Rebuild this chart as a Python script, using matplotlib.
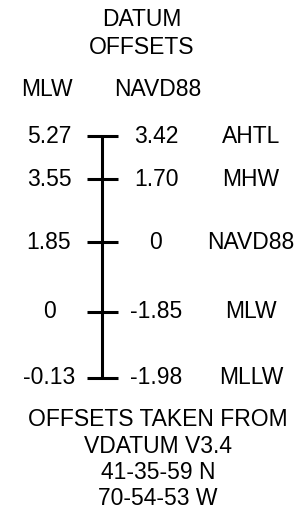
#Purpose: datum offsets diagram (MLW vs NAVD88)

import matplotlib
matplotlib.use("Agg")
from matplotlib import pyplot as plt

#data
datums = ['AHTL', 'MHW', 'NAVD88', 'MLW', 'MLLW']
mlw_offsets = ['5.27', '3.55', '1.85', '0', '-0.13']
navd_offsets = ['3.42', '1.70', '0', '-1.85', '-1.98']
#schematic slot of each datum on the bar (not to scale in the source)
slots = [0, 0.65, 1.6, 2.65, 3.65]

title_lines = ['DATUM', 'OFFSETS']
headers = ['MLW', 'NAVD88']
notes = ['OFFSETS TAKEN FROM', 'VDATUM V3.4', '41-35-59 N', '70-54-53 W']

W, H = 307, 514
plt.rcParams['font.family'] = ['Liberation Sans', 'DejaVu Sans']
fs = 16.5

fig = plt.figure(figsize=(W / 100, H / 100), dpi=100)
ax = fig.add_axes([0, 0, 1, 1])
#x in pixels, y in slot units (slot 0 at pixel 136, 66.3 px per slot)
top_px, px_per_slot = 136, 66.3
ax.set_xlim(0, W)
ax.set_ylim((H - top_px) / px_per_slot, -top_px / px_per_slot)
ax.axis('off')

#the bar and the ticks
ax.vlines(102, slots[0], slots[-1], color='black', lw=2.2, capstyle='butt')
ax.hlines(slots, 87, 118, color='black', lw=2.2, capstyle='butt')

for s, a, b, name in zip(slots, mlw_offsets, navd_offsets, datums):
    ax.text(49, s, a, fontsize=fs, ha='center', va='center')
    ax.text(156, s, b, fontsize=fs, ha='center', va='center')
    ax.text(251, s, name, fontsize=fs, ha='center', va='center')

def ftext(x, y, s):
    fig.text(x / W, 1 - y / H, s, fontsize=fs, ha='center', va='center')

ftext(142, 19, title_lines[0])
ftext(142, 47, title_lines[1])
ftext(47, 89, headers[0])
ftext(158, 89, headers[1])
for i, line in enumerate(notes):
    ftext(158, 420 + 26.3 * i, line)

fig.savefig('out.png', dpi=100, facecolor='white')
